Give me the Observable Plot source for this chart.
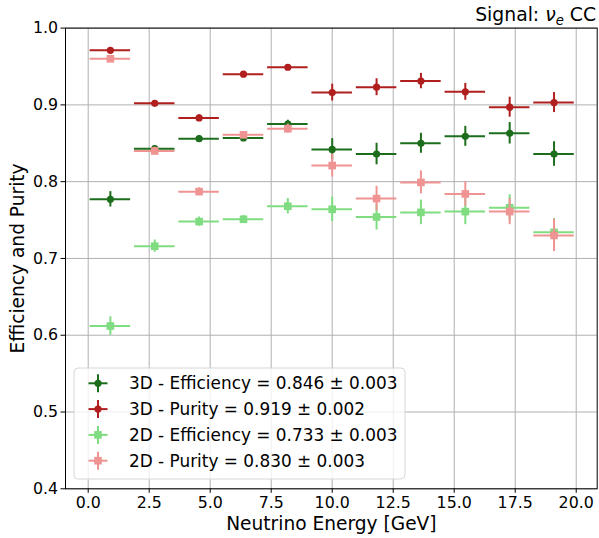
<!DOCTYPE html>
<html><head><meta charset="utf-8">
<script src="https://cdn.jsdelivr.net/npm/d3@7"></script>
<script src="https://cdn.jsdelivr.net/npm/@observablehq/plot@0.6"></script>
<style>
body{margin:0;background:#fff;font-family:"DejaVu Sans",sans-serif}
#chart svg{display:block}
</style>
</head><body><div id="chart"></div>
<script>
// Bin centres (GeV) and half-width of the horizontal error bars
const energy = [0.909, 2.727, 4.545, 6.364, 8.182, 10.0, 11.818, 13.636, 15.455, 17.273, 19.091];
const energyErr = 0.83;

const eff3D    = [0.777, 0.843, 0.856, 0.857, 0.875, 0.842, 0.836, 0.850, 0.859, 0.863, 0.836];
const eff3DErr = [0.010, 0.004, 0.004, 0.003, 0.005, 0.014, 0.014, 0.013, 0.013, 0.014, 0.016];

const pur3D    = [0.971, 0.902, 0.883, 0.940, 0.949, 0.916, 0.923, 0.931, 0.917, 0.897, 0.903];
const pur3DErr = [0.003, 0.003, 0.004, 0.002, 0.003, 0.011, 0.011, 0.010, 0.011, 0.013, 0.013];

const eff2D    = [0.612, 0.716, 0.748, 0.751, 0.768, 0.764, 0.754, 0.760, 0.761, 0.766, 0.734];
const eff2DErr = [0.012, 0.008, 0.006, 0.005, 0.010, 0.016, 0.017, 0.016, 0.017, 0.017, 0.018];

const pur2D    = [0.960, 0.840, 0.787, 0.861, 0.869, 0.821, 0.778, 0.799, 0.784, 0.761, 0.730];
const pur2DErr = [0.003, 0.005, 0.005, 0.004, 0.006, 0.015, 0.016, 0.015, 0.016, 0.017, 0.021];

const seriesNames = ["3D - Efficiency", "3D - Purity", "2D - Efficiency", "2D - Purity"];
const seriesTotals = ["0.846 ± 0.003", "0.919 ± 0.002", "0.733 ± 0.003", "0.830 ± 0.003"];
const xTicks = [0, 2.5, 5, 7.5, 10, 12.5, 15, 17.5, 20];
const yTicks = [0.4, 0.5, 0.6, 0.7, 0.8, 0.9, 1.0];

const styles = [
  {color: "#1c6e1c", symbol: "circle", r: 3.6},
  {color: "#b01e1e", symbol: "circle", r: 3.6},
  {color: "#80dc80", symbol: "square", r: 4.3},
  {color: "#f09393", symbol: "square", r: 4.3}
];
const seriesValues = [[eff3D, eff3DErr], [pur3D, pur3DErr], [eff2D, eff2DErr], [pur2D, pur2DErr]];

const seriesData = seriesValues.map(([vals, errs], s) =>
  energy.map((e, i) => ({series: seriesNames[s], x: e, y: vals[i], err: errs[i]})));

const W = 599, H = 538;
const marks = [
  Plot.gridX(xTicks, {stroke: "#b0b0b0", strokeOpacity: 1, strokeWidth: 1}),
  Plot.gridY(yTicks, {stroke: "#b0b0b0", strokeOpacity: 1, strokeWidth: 1}),
  Plot.axisX(xTicks, {tickFormat: d3.format(".1f"), tickSize: 4.5, tickPadding: 3, fontSize: 15.8, label: null, stroke: "#000"}),
  Plot.axisY(yTicks, {tickFormat: d3.format(".1f"), tickSize: 4.5, tickPadding: 3, fontSize: 15.8, label: null, stroke: "#000"})
];
seriesData.forEach((rows, s) => {
  const st = styles[s];
  marks.push(
    Plot.ruleY(rows, {y: "y", x1: d => d.x - energyErr, x2: d => d.x + energyErr, stroke: st.color, strokeWidth: 2}),
    Plot.ruleX(rows, {x: "x", y1: d => d.y - d.err, y2: d => d.y + d.err, stroke: st.color, strokeWidth: 2}),
    Plot.dot(rows, {x: "x", y: "y", r: st.r, symbol: st.symbol, fill: st.color, stroke: "none"})
  );
});
marks.push(
  Plot.frame({stroke: "#000", strokeWidth: 1}),
  Plot.text(["Neutrino Energy [GeV]"], {frameAnchor: "bottom", dy: 35, lineAnchor: "middle", fontSize: 18.6, fill: "#000", textAnchor: "middle", text: d => d}),
  Plot.text(["Efficiency and Purity"], {frameAnchor: "left", dx: -47.5, lineAnchor: "middle", rotate: -90, fontSize: 18.6, fill: "#000", textAnchor: "middle", text: d => d})
);

const chart = Plot.plot({
  width: W, height: H,
  marginLeft: 65, marginRight: 2.3, marginTop: 27.6, marginBottom: 49.7,
  style: {fontFamily: "DejaVu Sans, sans-serif", background: "#fff", color: "#000", overflow: "visible"},
  x: {domain: [-0.93, 20.86]},
  y: {domain: [0.4, 1.0]},
  marks
});
document.getElementById("chart").appendChild(chart);

const svg = d3.select(chart);
// Title with subscript
const title = svg.append("text")
  .attr("x", 596).attr("y", 21).attr("text-anchor", "end")
  .attr("font-size", 18.8).attr("font-family", "DejaVu Sans, sans-serif").attr("fill", "#000");
title.append("tspan").text("Signal: ");
title.append("tspan").attr("font-style", "italic").text("ν");
title.append("tspan").attr("font-style", "italic").attr("font-size", 13.2).attr("dy", 3.5).text("e");
title.append("tspan").attr("dy", -3.5).text(" CC");

// Legend
const lg = svg.append("g").attr("font-family", "DejaVu Sans, sans-serif").attr("text-anchor", "start");
lg.append("rect").attr("x", 74).attr("y", 368).attr("width", 331).attr("height", 111)
  .attr("rx", 4).attr("fill", "#fff").attr("fill-opacity", 0.8).attr("stroke", "#d6d6d6");
seriesNames.forEach((name, i) => {
  const cy = 383.3 + i * 25.8, cx = 98, st = styles[i];
  lg.append("line").attr("x1", cx - 9.5).attr("x2", cx + 9.5).attr("y1", cy).attr("y2", cy)
    .attr("stroke", st.color).attr("stroke-width", 2);
  lg.append("line").attr("x1", cx).attr("x2", cx).attr("y1", cy - 9).attr("y2", cy + 9)
    .attr("stroke", st.color).attr("stroke-width", 2);
  if (st.symbol === "circle") lg.append("circle").attr("cx", cx).attr("cy", cy).attr("r", st.r).attr("fill", st.color);
  else lg.append("rect").attr("x", cx - 3.8).attr("y", cy - 3.8).attr("width", 7.6).attr("height", 7.6).attr("fill", st.color);
  lg.append("text").attr("x", 129).attr("y", cy).attr("dy", "0.35em").attr("font-size", 16.9).attr("fill", "#000")
    .attr("text-anchor", "start")
    .text(name + " = " + seriesTotals[i]);
});
</script>
</body></html>
